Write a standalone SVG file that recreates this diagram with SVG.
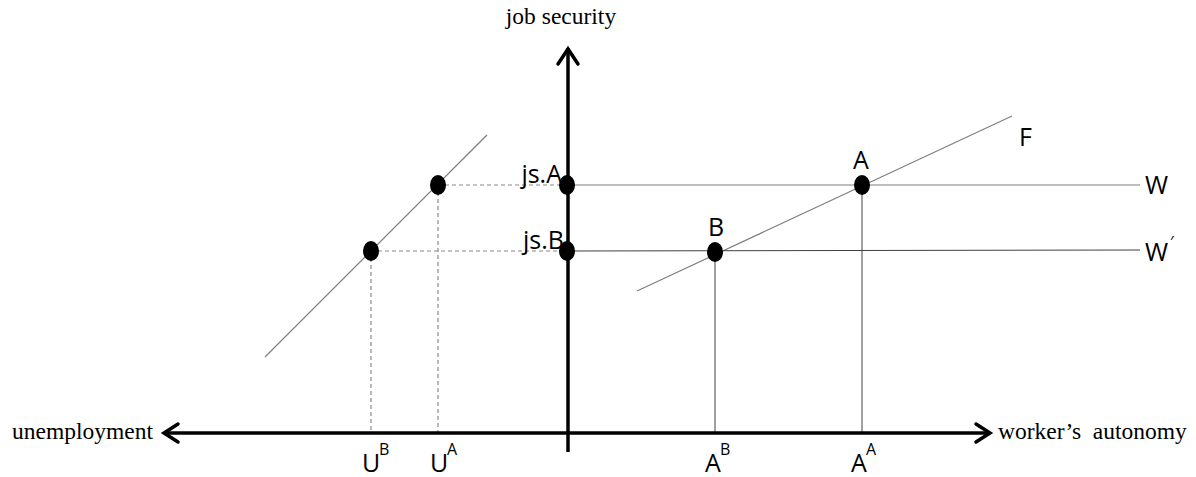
<svg xmlns="http://www.w3.org/2000/svg" width="1196" height="477" viewBox="0 0 1196 477">
<style>
.axis{stroke:#000;stroke-width:3.5;fill:none}
.head{stroke:#000;stroke-width:3.5;fill:none;stroke-linecap:round;stroke-linejoin:miter}
.thin{stroke:#7f7f7f;stroke-width:1.2;fill:none}
.drop{stroke:#404040;stroke-width:1;fill:none}
.dash{stroke:#8a8a8a;stroke-width:1.2;stroke-dasharray:4 3;fill:none}
.dot{fill:#000}
.serif{font-family:"Liberation Serif","Times New Roman",serif;font-size:23.5px;fill:#000}
.sans{font-family:"Open Sans","Liberation Sans",Arial,sans-serif;font-size:25px;fill:#000}
.sup{font-family:"Open Sans","Liberation Sans",Arial,sans-serif;font-size:16px;fill:#000}
</style>
<rect width="1196" height="477" fill="#fff"/>
<g id="connectors">
  <line class="thin" x1="265" y1="357" x2="487" y2="135"/>
  <line class="thin" x1="637" y1="291" x2="1012" y2="116"/>
  <line class="thin" x1="568" y1="185" x2="1140" y2="185"/>
  <line class="drop" x1="568" y1="251" x2="1140" y2="250"/>
  <line class="dash" x1="438" y1="185" x2="566" y2="185"/>
  <line class="dash" x1="371" y1="251" x2="566" y2="251"/>
  <line class="dash" x1="438" y1="185" x2="438" y2="432"/>
  <line class="dash" x1="371" y1="251" x2="371" y2="432"/>
  <line class="drop" x1="715" y1="251" x2="715" y2="432"/>
  <line class="drop" x1="862" y1="185" x2="862" y2="432"/>
</g>
<g id="axes">
  <line class="axis" x1="568" y1="48" x2="568" y2="452"/>
  <polyline class="head" points="558,64 568,49 578,64"/>
  <line class="axis" x1="164" y1="433" x2="990" y2="433"/>
  <polyline class="head" points="178,424 164,433 178,442"/>
  <polyline class="head" points="976,424 990,433 976,442"/>
  <text class="serif" x="561" y="24" text-anchor="middle">job security</text>
  <text class="serif" x="12" y="439">unemployment</text>
  <text class="serif" x="998" y="439" xml:space="preserve">worker’s  autonomy</text>
</g>
<g id="node-UA"><ellipse class="dot" cx="438" cy="185" rx="8" ry="10"/></g>
<g id="node-UB"><ellipse class="dot" cx="371" cy="251" rx="8" ry="10"/></g>
<g id="node-jsA"><ellipse class="dot" cx="567" cy="185" rx="8" ry="10"/><text class="sans" x="562" y="183" text-anchor="end">js.A</text></g>
<g id="node-jsB"><ellipse class="dot" cx="567" cy="251" rx="8" ry="10"/><text class="sans" x="564" y="249" text-anchor="end">js.B</text></g>
<g id="node-A"><ellipse class="dot" cx="862" cy="185" rx="8" ry="10"/><text class="sans" x="861" y="169" text-anchor="middle">A</text></g>
<g id="node-B"><ellipse class="dot" cx="715" cy="252" rx="8" ry="10"/><text class="sans" x="716" y="236" text-anchor="middle">B</text></g>
<g id="labels">
  <text class="sans" x="1019" y="146">F</text>
  <text class="sans" x="1145" y="194">W</text>
  <text class="sans" x="1145" y="261">W</text>
  <text class="sup" x="1170" y="248">′</text>
  <text class="sans" x="362" y="472">U</text><text class="sup" x="379" y="455">B</text>
  <text class="sans" x="430" y="472">U</text><text class="sup" x="447" y="455">A</text>
  <text class="sans" x="705" y="472">A</text><text class="sup" x="720" y="455">B</text>
  <text class="sans" x="851" y="472">A</text><text class="sup" x="866" y="455">A</text>
</g>
</svg>
